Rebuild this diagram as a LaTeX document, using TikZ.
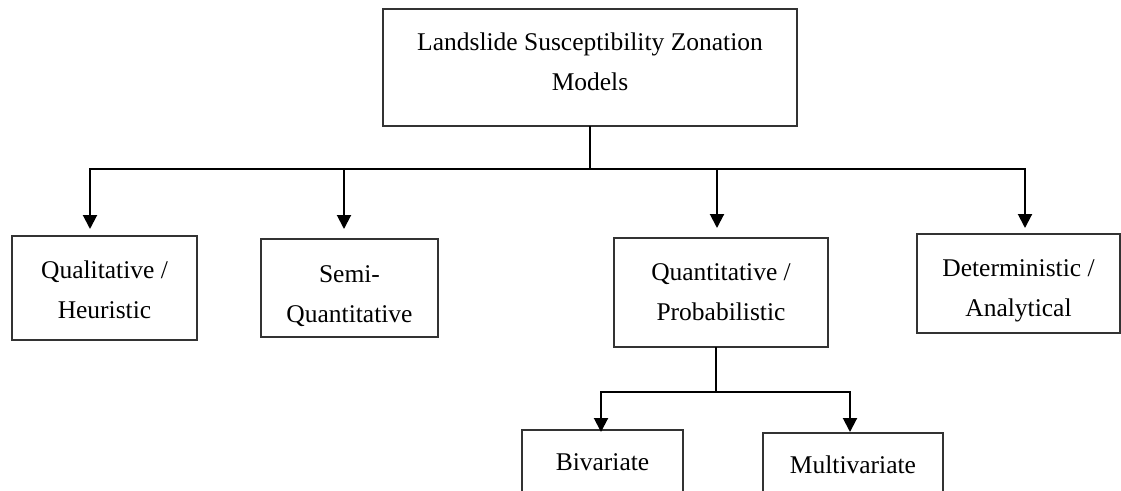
\documentclass[tikz,border=0pt]{standalone}
\usepackage{fontspec}
\setmainfont{Liberation Serif}
\usetikzlibrary{arrows.meta}
\begin{document}
\begin{tikzpicture}[x=1pt,y=-1pt,
  box/.style={draw=black!80, line width=1.1pt, inner sep=0pt, outer sep=0pt,
    align=center, font=\fontsize{25.5}{40}\selectfont, text depth=6pt},
  conn/.style={line width=2pt, black},
  arr/.style={conn, -{Triangle[width=14pt,length=14pt]}}]
\path[use as bounding box, clip] (0,0) rectangle (1121,490);
\fill[white] (0,0) rectangle (1121,490);
% boxes
\node[box, minimum width=414pt, minimum height=117pt, text height=52.6pt] (top) at (590,67.5)
  {Landslide Susceptibility Zonation\\Models};
\node[box, minimum width=185pt, minimum height=104pt, text height=67.6pt] (qual) at (104.5,288)
  {Qualitative /\\Heuristic};
\node[box, minimum width=177pt, minimum height=98pt, text height=75.6pt] (semi) at (349.5,288)
  {Semi-\\Quantitative};
\node[box, minimum width=214pt, minimum height=109pt, text height=62.6pt] (quant) at (721,292.5)
  {Quantitative /\\Probabilistic};
\node[box, minimum width=203pt, minimum height=99pt, text height=72.6pt] (det) at (1018.5,283.5)
  {Deterministic /\\Analytical};
\node[box, minimum width=161pt, minimum height=70pt, text height=11.6pt, text depth=0pt] (biv) at (602.5,465)
  {Bivariate};
\node[box, minimum width=180pt, minimum height=70pt, text height=11.6pt, text depth=0pt] (multi) at (853,468)
  {Multivariate};
% bus coordinates
\coordinate (s0) at (590,169);
\coordinate (b1) at (90,169);
\coordinate (b2) at (344,169);
\coordinate (b3) at (717,169);
\coordinate (b4) at (1025,169);
\coordinate (q0) at (716,392);
\coordinate (c1) at (601,392);
\coordinate (c2) at (850,392);
% connectors
\draw[conn] (top.south -| s0) -- (s0);
\draw[arr, shorten >=7pt] (s0) -- (b1) -- (b1 |- qual.north);
\draw[arr, shorten >=10pt] (b2) -- (b2 |- semi.north);
\draw[arr, shorten >=10pt] (b3) -- (b3 |- quant.north);
\draw[arr, shorten >=6pt] (s0) -- (b4) -- (b4 |- det.north);
\draw[conn] (q0 |- quant.south) -- (q0);
\draw[arr, shorten >=-2pt] (q0) -- (c1) -- (c1 |- biv.north);
\draw[arr, shorten >=1pt] (q0) -- (c2) -- (c2 |- multi.north);
\end{tikzpicture}
\end{document}
